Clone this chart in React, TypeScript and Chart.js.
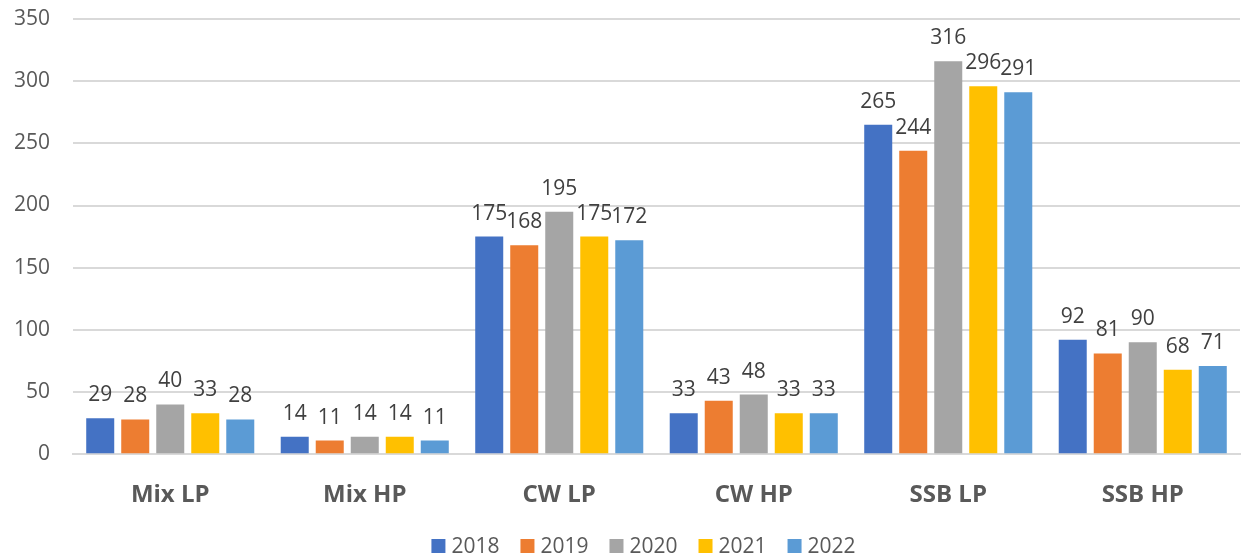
import React, { useEffect, useRef } from "react";
import { Chart, registerables } from "chart.js";

Chart.register(...registerables);

const categories = ["Mix LP", "Mix HP", "CW LP", "CW HP", "SSB LP", "SSB HP"];
const years = ["2018", "2019", "2020", "2021", "2022"];
const colors = ["#4472C4", "#ED7D31", "#A5A5A5", "#FFC000", "#5B9BD5"];
const v2018 = [29, 14, 175, 33, 265, 92];
const v2019 = [28, 11, 168, 43, 244, 81];
const v2020 = [40, 14, 195, 48, 316, 90];
const v2021 = [33, 14, 175, 33, 296, 68];
const v2022 = [28, 11, 172, 33, 291, 71];
const series = [v2018, v2019, v2020, v2021, v2022];

const FONT = "'Open Sans', 'Liberation Sans', sans-serif";

const labelPlugin = {
  id: "valueLabels",
  afterDatasetsDraw(chart: any) {
    const ctx = chart.ctx;
    ctx.save();
    ctx.font = `21px ${FONT}`;
    ctx.fillStyle = "#404040";
    ctx.textAlign = "center";
    ctx.textBaseline = "alphabetic";
    chart.data.datasets.forEach((ds: any, i: number) => {
      const meta = chart.getDatasetMeta(i);
      meta.data.forEach((bar: any, j: number) => {
        ctx.fillText(String(ds.data[j]), bar.x, bar.y - 17);
      });
    });
    ctx.restore();
  },
};

const customLegend = {
  id: "customLegend",
  afterDraw(chart: any) {
    const ctx = chart.ctx;
    ctx.save();
    ctx.font = `21px ${FONT}`;
    ctx.textBaseline = "alphabetic";
    ctx.textAlign = "left";
    const box = 14;
    const gap = 6;
    const spacing = 21;
    const items = chart.data.datasets.map((ds: any) => ({
      label: ds.label,
      color: ds.backgroundColor,
      w: ctx.measureText(ds.label).width,
    }));
    const total = items.reduce((s: number, it: any) => s + box + gap + it.w, 0) + spacing * (items.length - 1);
    let x = chart.width / 2 + 22 - total / 2;
    const baseline = 553;
    items.forEach((it: any) => {
      ctx.fillStyle = it.color;
      ctx.fillRect(x, baseline - box, box, box);
      ctx.fillStyle = "#595959";
      ctx.fillText(it.label, x + box + gap, baseline);
      x += box + gap + it.w + spacing;
    });
    ctx.restore();
  },
};

export default function App() {
  const ref = useRef<HTMLCanvasElement>(null);
  useEffect(() => {
    const chart = new Chart(ref.current!, {
      type: "bar",
      data: {
        labels: categories,
        datasets: series.map((d, i) => ({
          label: years[i],
          data: d,
          backgroundColor: colors[i],
          categoryPercentage: 0.9,
          barPercentage: 0.8,
        })),
      },
      options: {
        animation: false,
        responsive: false,
        maintainAspectRatio: false,
        layout: { padding: { top: 0, right: 3, left: 0, bottom: 26 } },
        plugins: {
          tooltip: { enabled: false },
          legend: { display: false },
        },
        scales: {
          x: {
            grid: { display: false },
            border: { display: true, color: "#D9D9D9", width: 2 },
            ticks: {
              padding: 19,
              font: { family: FONT, size: 24, weight: "bold" },
              color: "#595959",
            },
          },
          y: {
            min: 0,
            max: 350,
            afterFit(scale: any) {
              scale.width = 73;
              scale.paddingTop = 19;
              scale.paddingBottom = 0;
            },
            ticks: {
              stepSize: 50,
              padding: 23,
              font: { family: FONT, size: 21 },
              color: "#595959",
            },
            grid: { color: "#D9D9D9", lineWidth: 2, drawTicks: false },
            border: { display: false },
          },
        },
      },
      plugins: [labelPlugin, customLegend],
    });
    return () => chart.destroy();
  }, []);
  return (
    <div style={{ position: "absolute", left: 0, top: 0, width: 1243, height: 555 }}>
      <canvas ref={ref} width={1243} height={555} />
    </div>
  );
}
